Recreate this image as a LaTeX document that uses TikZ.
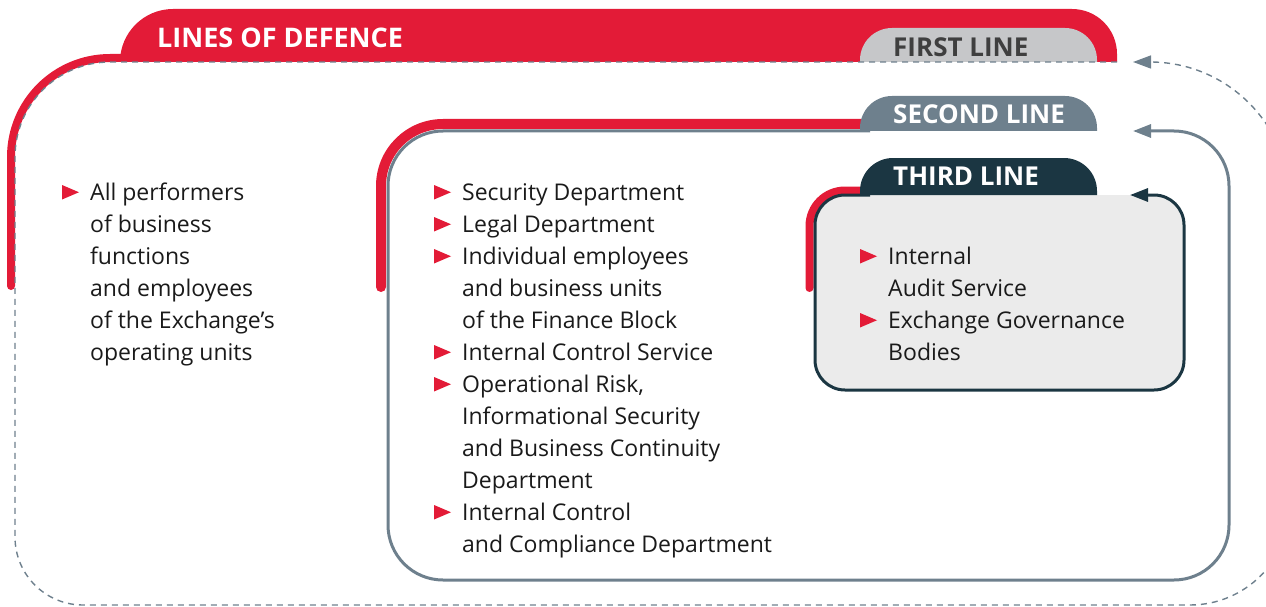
\documentclass[tikz,border=0pt]{standalone}
\usepackage{fontspec}
\setmainfont{Open Sans}
\usetikzlibrary{arrows.meta,calc}
\definecolor{lodred}{HTML}{E31B37}
\definecolor{tabgray}{HTML}{C6C7C9}
\definecolor{tabtext}{HTML}{3F3F3F}
\definecolor{slate}{HTML}{6E808D}
\definecolor{darkteal}{HTML}{1B3642}
\definecolor{boxfill}{HTML}{EBEBEB}
\definecolor{bodytext}{HTML}{1A1A1A}
% bullet: #1 = node name, #2 = number of lines above the node's base line
\newcommand\lodbullet[2]{\fill[lodred] ($(#1.base west)+(-28,{0.5+32*#2})$) -- ++(0,14.5) -- ++(17,-7.25) -- cycle;}
\begin{document}
\begin{tikzpicture}[x=1pt,y=1pt,
  tabtitle/.style={anchor=base west,inner sep=0pt,font=\fontsize{26}{30}\selectfont\bfseries},
  itemtext/.style={anchor=base west,inner sep=0pt,align=left,text=bodytext,font=\fontsize{23}{32}\selectfont},
  tiparrow/.style={-{Triangle[length=18pt,width=13pt]}},
  firstline/.style={slate,line width=1.4pt,dash pattern=on 6pt off 5pt},
  secondline/.style={slate,line width=3pt},
  thirdline/.style={darkteal,line width=3pt},
  redstripe/.style={lodred,line cap=round}]
\useasboundingbox (0,0) rectangle (1266,-607);
\clip (0,0) rectangle (1266,-607);
% ---------- first line ----------
\draw[redstripe,line width=8pt] (11,-286) -- (11,-157) arc[start angle=180,end angle=90,radius=99] -- (140,-58);
\fill[lodred] (120,-62) arc[start angle=180,end angle=90,radius=53] -- (1072,-9)
   arc[start angle=90,end angle=0,radius=45] -- (1117,-62) -- cycle;
\fill[tabgray] (860,-62) -- (860,-60) arc[start angle=180,end angle=90,radius=32] -- (1065,-28)
   arc[start angle=90,end angle=0,radius=32] -- (1097,-62) -- cycle;
\draw[firstline,tiparrow] (1117,-62) -- (110,-62) arc[start angle=90,end angle=180,radius=95]
   -- (15,-537) arc[start angle=180,end angle=270,radius=68]
   -- (1190,-605) arc[start angle=270,end angle=360,radius=100]
   -- (1290,-202) arc[start angle=0,end angle=90,radius=140] -- (1133,-62);
\node[tabtitle,text=white,font=\fontsize{27}{30}\selectfont\bfseries] (lod) at (157,-48) {LINES OF DEFENCE};
\node[tabtitle,text=tabtext] (first) at (893,-57) {FIRST LINE};
% ---------- second line ----------
\draw[redstripe,line width=10pt] (381,-287) -- (381,-186) arc[start angle=180,end angle=90,radius=62] -- (870,-124);
\draw[secondline,tiparrow] (870,-131) -- (443,-131) arc[start angle=90,end angle=180,radius=55]
   -- (388,-525) arc[start angle=180,end angle=270,radius=55]
   -- (1174,-580) arc[start angle=270,end angle=360,radius=55]
   -- (1229,-186) arc[start angle=0,end angle=90,radius=55] -- (1133,-131);
\fill[slate] (860,-131) -- (860,-128) arc[start angle=180,end angle=90,radius=32] -- (1065,-96)
   arc[start angle=90,end angle=0,radius=32] -- (1097,-131) -- cycle;
\node[tabtitle,text=white] (second) at (893,-124) {SECOND LINE};
% ---------- third line ----------
\fill[boxfill,rounded corners=30pt] (815,-195) rectangle (1184,-390);
\draw[redstripe,line width=8pt] (809.5,-288) -- (809.5,-226) arc[start angle=180,end angle=90,radius=35.5] -- (870,-190.5);
\draw[thirdline,tiparrow] (870,-195) -- (845,-195) arc[start angle=90,end angle=180,radius=30]
   -- (815,-360) arc[start angle=180,end angle=270,radius=30]
   -- (1154,-390) arc[start angle=270,end angle=360,radius=30]
   -- (1184,-225) arc[start angle=0,end angle=90,radius=30] -- (1130,-195);
\fill[darkteal] (860,-195) -- (860,-191) arc[start angle=180,end angle=90,radius=33] -- (1064,-158)
   arc[start angle=90,end angle=0,radius=33] -- (1097,-195) -- cycle;
\node[tabtitle,text=white] (third) at (893,-185) {THIRD LINE};
% ---------- texts (nodes placed at the base line of their last line) ----------
\node[itemtext] (f1) at (90,-360) {All performers\\of business\\functions\\and employees\\of the Exchange’s\\operating units};
\lodbullet{f1}{5}
\node[itemtext] (s1) at (462,-200) {Security Department};
\lodbullet{s1}{0}
\node[itemtext] (s2) at (462,-232) {Legal Department};
\lodbullet{s2}{0}
\node[itemtext] (s3) at (462,-328) {Individual employees\\and business units\\of the Finance Block};
\lodbullet{s3}{2}
\node[itemtext] (s4) at (462,-360) {Internal Control Service};
\lodbullet{s4}{0}
\node[itemtext] (s5) at (462,-488) {Operational Risk,\\Informational Security\\and Business Continuity\\Department};
\lodbullet{s5}{3}
\node[itemtext] (s6) at (462,-552) {Internal Control\\and Compliance Department};
\lodbullet{s6}{1}
\node[itemtext] (t1) at (888,-296) {Internal\\Audit Service};
\lodbullet{t1}{1}
\node[itemtext] (t2) at (888,-360) {Exchange Governance\\Bodies};
\lodbullet{t2}{1}
\end{tikzpicture}
\end{document}
